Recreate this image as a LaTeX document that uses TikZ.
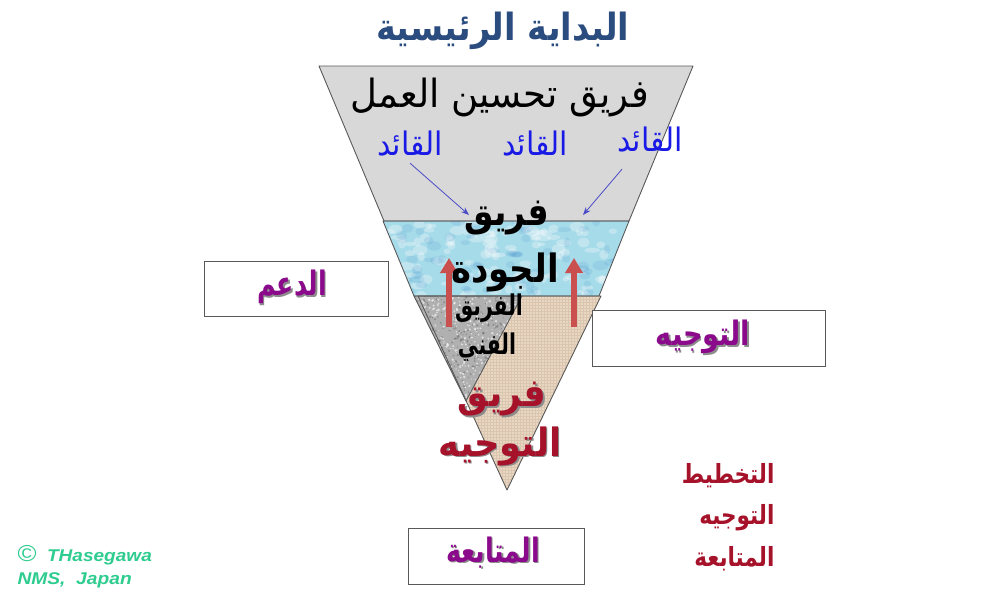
\documentclass[tikz,border=0pt]{standalone}
\usepackage{fontspec}
\usepackage{graphicx}
\setmainfont{Liberation Sans}
\newfontfamily\arabicfont[Script=Arabic]{DejaVu Sans}
\TeXXeTstate=1
\usetikzlibrary{arrows.meta}
% Arabic text, stretched: {x factor}{y factor}{text with its own \beginR ... \endR}
\newcommand\artxt[3]{\scalebox{#1}[#2]{\arabicfont #3}}
% text with a grey drop shadow set behind it, in one box
\newcommand\dropshadow[1]{\rlap{\hspace{1.6pt}\raisebox{-1.6pt}{\color{black!45}#1}}#1}

\definecolor{titleblue}{HTML}{2B4C7E}
\definecolor{leadblue}{HTML}{1A1AE6}
\definecolor{arrowblue}{HTML}{4B4BC8}
\definecolor{capred}{HTML}{A5122A}
\definecolor{labpurple}{HTML}{8B0A8B}
\definecolor{upred}{HTML}{C9504E}
\definecolor{credit}{HTML}{2ECC8F}
\definecolor{grayband}{HTML}{D8D8D8}
\definecolor{waterblue}{HTML}{A6DBE9}
\definecolor{granite}{HTML}{B0B0B0}
\definecolor{sand}{HTML}{E9D7C3}
\definecolor{sandline}{HTML}{DAC6AF}

\tikzset{
  band/.style={draw=black!65, line width=0.9pt, line join=round},
  labelbox/.style={draw=black!65, line width=1pt, fill=white},
  leader/.style={text=leadblue, font=\fontsize{24}{26}\selectfont},
  leadarrow/.style={draw=arrowblue, line width=0.8pt, -{Stealth[length=8pt,width=6pt]}},
  uparrow/.style={draw=upred, line width=5.5pt, -{Triangle[width=17pt,length=15pt]}},
  boxlabel/.style={text=labpurple, font=\fontsize{24}{26}\selectfont\bfseries},
  bigbold/.style={font=\fontsize{30}{32}\selectfont\bfseries, inner sep=0pt},
  listitem/.style={text=capred, anchor=east, font=\fontsize{22}{24}\selectfont\bfseries},
  creditline/.style={text=credit, anchor=west, font=\fontsize{17}{19}\selectfont\bfseries\itshape},
}

\begin{document}
\begin{tikzpicture}[x=1pt, y={(0,-1pt)}]
\useasboundingbox (0,0) rectangle (992,595);

% ---- funnel bands ----
\coordinate (g1) at (319,66);  \coordinate (g2) at (693,66);
\coordinate (g3) at (629,221); \coordinate (g4) at (384,221);
\coordinate (c1) at (383,221); \coordinate (c2) at (629,221);
\coordinate (c3) at (599,296); \coordinate (c4) at (414,296);
\coordinate (t1) at (418,296); \coordinate (t2) at (601,296);
\coordinate (t3) at (507,490);
\coordinate (r1) at (414,296); \coordinate (r2) at (522,296);
\coordinate (r3) at (466,401);

% grey top band
\fill[grayband] (g1) -- (g2) -- (g3) -- (g4) -- cycle;

% water-textured band
\fill[waterblue] (c1) -- (c2) -- (c3) -- (c4) -- cycle;
\begin{scope}
  \clip (c1) -- (c2) -- (c3) -- (c4) -- cycle;
  \pgfmathsetseed{7}
  \foreach \i in {1,...,120} {
    \fill[white, opacity=0.3] ({383+rnd*246},{221+rnd*75}) ellipse ({3+rnd*5} and {2+rnd*3});
  }
  \foreach \i in {1,...,70} {
    \fill[cyan!50!blue, opacity=0.1] ({383+rnd*246},{221+rnd*75}) ellipse ({3+rnd*5} and {2+rnd*3});
  }
\end{scope}

% sand-textured lower triangle
\fill[sand] (t1) -- (t2) -- (t3) -- cycle;
\begin{scope}
  \clip (t1) -- (t2) -- (t3) -- cycle;
  \foreach \k in {0,3,...,200} {
    \draw[sandline, line width=0.4pt] ({418+\k},296) -- ({418+\k},490);
  }
  \foreach \k in {0,3,...,195} {
    \draw[sandline, line width=0.4pt] (418,{296+\k}) -- (601,{296+\k});
  }
\end{scope}

% granite-textured wedge
\fill[granite] (r1) -- (r2) -- (r3) -- cycle;
\begin{scope}
  \clip (r1) -- (r2) -- (r3) -- cycle;
  \pgfmathsetseed{11}
  \foreach \i in {1,...,450} {
    \fill[black!60, opacity=0.45] ({414+rnd*108},{296+rnd*105}) circle ({0.5+rnd*0.9});
  }
  \foreach \i in {1,...,400} {
    \fill[white, opacity=0.6] ({414+rnd*108},{296+rnd*105}) circle ({0.5+rnd*0.9});
  }
\end{scope}

% outlines
\draw[band] (g1) -- (g2) -- (g3) -- (g4) -- cycle;
\draw[band] (c1) -- (c2) -- (c3) -- (c4) -- cycle;
\draw[band] (t1) -- (t2) -- (t3) -- cycle;
\draw[band] (r1) -- (r2) -- (r3) -- cycle;

% ---- upward arrows ----
\coordinate (la0) at (449,327); \coordinate (la1) at (449,258);
\coordinate (ra0) at (574,327); \coordinate (ra1) at (574,258);
\draw[uparrow] (la0) -- (la1);
\draw[uparrow] (ra0) -- (ra1);

% ---- title ----
\node[text=titleblue, font=\fontsize{30}{32}\selectfont\bfseries] (title) at (503,31) {\artxt{1.12}{1.25}{\beginR البداية الرئيسية\endR}};

% ---- grey band texts ----
\node[font=\fontsize{37}{39}\selectfont] (workteam) at (500,97) {\artxt{1}{1.05}{\beginR فريق تحسين العمل\endR}};
\node[leader] (lead1) at (410,143) {\artxt{1.25}{1.35}{\beginR القائد\endR}};
\node[leader] (lead2) at (535,143) {\artxt{1.25}{1.35}{\beginR القائد\endR}};
\node[leader] (lead3) at (650,139) {\artxt{1.25}{1.35}{\beginR القائد\endR}};

% ---- quality team ----
\node[bigbold] (qual1) at (507,218) {\artxt{1.1}{1.3}{\beginR فريق\endR}};
\node[bigbold] (qual2) at (505,272) {\artxt{1.13}{1.3}{\beginR الجودة\endR}};

\coordinate (lead1tip) at (469,215);
\coordinate (lead3tip) at (583,215);
\draw[leadarrow] (lead1.south) ++(0,4) -- (lead1tip);
\draw[leadarrow] (lead3.south) ++(-28,14) -- (lead3tip);

% ---- technical team ----
\node[font=\fontsize{19}{21}\selectfont\bfseries, inner sep=0pt] (tech1) at (489,308) {\artxt{1.07}{1.5}{\beginR الفريق\endR}};
\node[font=\fontsize{19}{21}\selectfont\bfseries, inner sep=0pt] (tech2) at (487,347) {\artxt{1.07}{1.5}{\beginR الفني\endR}};

% ---- steering team (shadowed) ----
\node[bigbold, text=capred] (steer1) at (502,400) {\dropshadow{\artxt{1.15}{1.3}{\beginR فريق\endR}}};
\node[bigbold, text=capred] (steer2) at (500,447) {\dropshadow{\artxt{1.17}{1.3}{\beginR التوجيه\endR}}};

% ---- side boxes ----
\node[labelbox, minimum width=184pt, minimum height=55pt] (supportbox) at (296,288.5) {};
\node[boxlabel] (support) at (292,288) {\dropshadow{\artxt{1.05}{1.4}{\beginR الدعم\endR}}};

\node[labelbox, minimum width=233pt, minimum height=56pt] (guidebox) at (708.5,338) {};
\node[boxlabel] (guide) at (703,338) {\dropshadow{\artxt{1.13}{1.4}{\beginR التوجيه\endR}}};

\node[labelbox, minimum width=176pt, minimum height=56pt] (followbox) at (496,556) {};
\node[boxlabel] (follow) at (493,553) {\dropshadow{\artxt{1.05}{1.4}{\beginR المتابعة\endR}}};

% ---- right-hand list ----
\node[listitem] (plan) at (778,476) {\artxt{0.98}{1.2}{\beginR التخطيط\endR}};
\node[listitem] (steer) at (778,518) {\artxt{0.98}{1.2}{\beginR التوجيه\endR}};
\node[listitem] (monitor) at (778,559) {\artxt{0.98}{1.2}{\beginR المتابعة\endR}};

% ---- credits ----
\node[creditline] (credit1) at (14,555) {\scalebox{1.12}[1]{{\fontsize{23}{23}\selectfont\mdseries\upshape ©}\ \ THasegawa}};
\node[creditline] (credit2) at (14,580) {\scalebox{1.13}[1]{NMS,\ \ Japan}};
\end{tikzpicture}
\end{document}
